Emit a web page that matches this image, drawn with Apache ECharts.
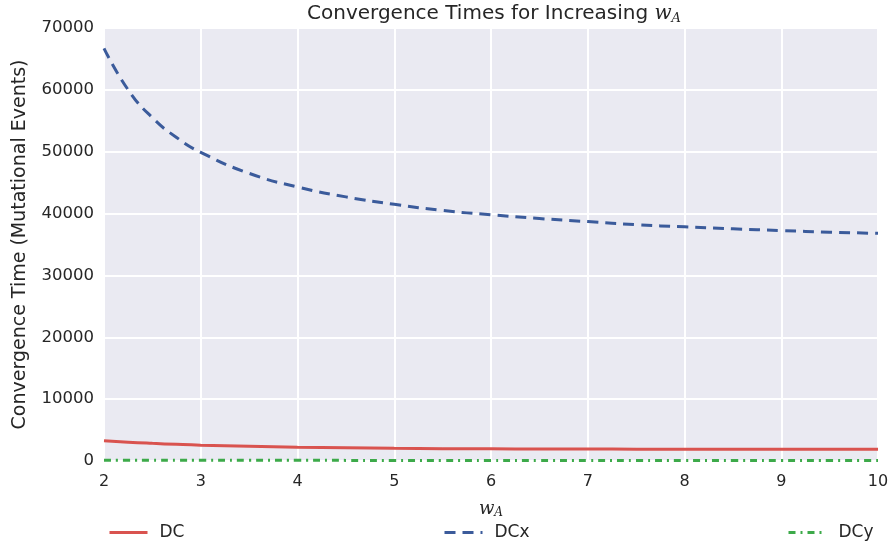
<!DOCTYPE html>
<html>
<head>
<meta charset="utf-8">
<script src="https://cdn.jsdelivr.net/npm/echarts@6/dist/echarts.min.js"></script>
<style>html,body{margin:0;padding:0;background:#fff}#c{width:893px;height:548px}</style>
</head>
<body>
<div id="c"></div>
<script>
// Data
const wA = [2, 2.25, 2.5, 2.75, 3, 3.5, 4, 4.5, 5, 5.5, 6, 6.5, 7, 7.5, 8, 8.5, 9, 9.5, 10];
const dcValues = [3280, 3040, 2850, 2690, 2560, 2380, 2230, 2130, 2050, 2000, 1970, 1950, 1930, 1915, 1900, 1895, 1890, 1885, 1880];
const dcxValues = [66700, 60000, 55500, 52300, 49900, 46500, 44300, 42700, 41500, 40500, 39800, 39200, 38700, 38200, 37850, 37530, 37250, 37000, 36800];
const dcyValues = [110, 108, 106, 105, 104, 103, 102, 101, 100, 100, 100, 100, 100, 100, 100, 100, 100, 100, 100];
const seriesNames = ['DC', 'DCx', 'DCy'];
const xTicks = [2, 3, 4, 5, 6, 7, 8, 9, 10];
const yTicks = [0, 10000, 20000, 30000, 40000, 50000, 60000, 70000];

const pair = (xs, ys) => xs.map((x, i) => [x, ys[i]]);
const FONT = 'DejaVu Sans';
const chart = echarts.init(document.getElementById('c'), null, {renderer: 'canvas'});
const legendBase = {
  bottom: 2, itemWidth: 38, itemHeight: 14, itemGap: 12,
  itemStyle: {opacity: 0},
  lineStyle: {width: 3},
  textStyle: {fontFamily: FONT, fontSize: 17, color: '#262626', padding: [0, 0, 0, 7]}
};
chart.setOption({
  animation: false,
  backgroundColor: '#ffffff',
  title: {
    text: 'Convergence Times for Increasing {w|w}{s|A}',
    left: 489, textAlign: 'center', top: -2,
    textStyle: {
      fontFamily: FONT, fontSize: 20, fontWeight: 'normal', color: '#262626',
      rich: {
        w: {fontFamily: 'DejaVu Serif', fontStyle: 'italic', fontSize: 20, color: '#262626'},
        s: {fontFamily: 'DejaVu Serif', fontStyle: 'italic', fontSize: 13, color: '#262626', verticalAlign: 'bottom', padding: [9, 0, 0, 0]}
      }
    }
  },
  grid: {left: 104, right: 15, top: 28, bottom: 87, show: true, backgroundColor: '#EAEAF2', borderWidth: 0},
  legend: [
    Object.assign({}, legendBase, {data: [seriesNames[0]], left: 103}),
    Object.assign({}, legendBase, {data: [seriesNames[1]], left: 438}),
    Object.assign({}, legendBase, {data: [seriesNames[2]], left: 782})
  ],
  xAxis: {
    type: 'value', min: 2, max: 10, interval: 1,
    name: '{w|w}{s|A}', nameLocation: 'middle', nameGap: 38,
    nameTextStyle: {
      rich: {
        w: {fontFamily: 'DejaVu Serif', fontStyle: 'italic', fontSize: 18, color: '#262626'},
        s: {fontFamily: 'DejaVu Serif', fontStyle: 'italic', fontSize: 12, color: '#262626', verticalAlign: 'bottom', padding: [8, 0, 0, 0]}
      }
    },
    axisLine: {show: false},
    axisTick: {show: false},
    axisLabel: {fontFamily: FONT, fontSize: 16, color: '#262626', margin: 13,
      formatter: v => xTicks.includes(v) ? String(v) : ''},
    splitLine: {show: true, lineStyle: {color: '#ffffff', width: 2}}
  },
  yAxis: {
    type: 'value', min: 0, max: 70000, interval: 10000,
    name: 'Convergence Time (Mutational Events)', nameLocation: 'middle', nameGap: 74,
    nameTextStyle: {fontFamily: FONT, fontSize: 19, color: '#262626'},
    axisLine: {show: false},
    axisTick: {show: false},
    axisLabel: {fontFamily: FONT, fontSize: 16.5, color: '#262626', margin: 10,
      formatter: v => yTicks.includes(v) ? String(v) : ''},
    splitLine: {show: true, lineStyle: {color: '#ffffff', width: 2}}
  },
  series: [
    {name: seriesNames[0], type: 'line', data: pair(wA, dcValues), smooth: true, showSymbol: false, symbol: 'none',
      lineStyle: {color: '#D9534F', width: 3}, itemStyle: {color: '#D9534F'}},
    {name: seriesNames[1], type: 'line', data: pair(wA, dcxValues), smooth: true, showSymbol: false, symbol: 'none',
      lineStyle: {color: '#3B5B9B', width: 3, type: [11, 7]}, itemStyle: {color: '#3B5B9B'}},
    {name: seriesNames[2], type: 'line', data: pair(wA, dcyValues), smooth: true, showSymbol: false, symbol: 'none',
      lineStyle: {color: '#3DAA4A', width: 3, type: [7, 5, 2, 5]}, itemStyle: {color: '#3DAA4A'}}
  ]
});
</script>
</body>
</html>
